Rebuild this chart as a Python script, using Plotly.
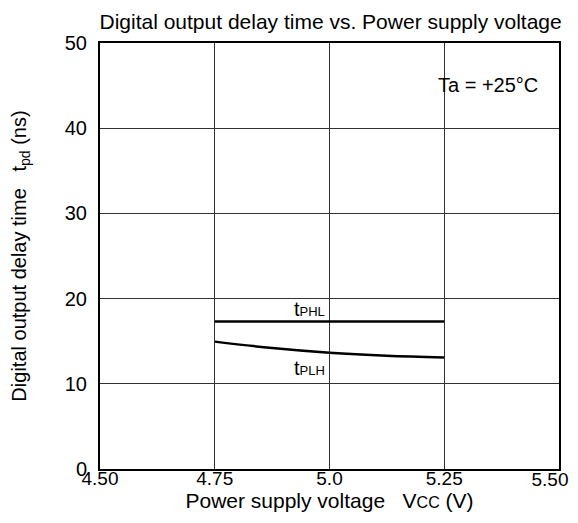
import plotly.graph_objects as go

vcc = [4.75, 4.875, 5.0, 5.125, 5.25]
t_phl = [17.3, 17.3, 17.3, 17.3, 17.3]
t_plh = [14.95, 14.2, 13.65, 13.3, 13.1]

x_ticks = [4.50, 4.75, 5.0, 5.25, 5.50]
x_tick_text = ["4.50", "4.75", "5.0", "5.25", "5.50"]
y_ticks = [0, 10, 20, 30, 40, 50]

FONT = "Liberation Sans, Arial, sans-serif"
FS = 20

fig = go.Figure()
fig.add_trace(go.Scatter(x=vcc, y=t_phl, mode="lines", line=dict(color="black", width=2.5),
                         line_shape="spline", showlegend=False))
# same x range on both x axes, so drawing this one on x2 keeps it in place
fig.add_trace(go.Scatter(x=vcc, y=t_plh, mode="lines", line=dict(color="black", width=2.5),
                         line_shape="spline", showlegend=False, xaxis="x2", yaxis="y"))

small = '<span style="font-size:13px">'
fig.add_annotation(x=5.0, y=t_phl[2], text="t" + small + "PHL</span>", showarrow=False,
                   xanchor="right", yanchor="bottom", xshift=-3, yshift=0,
                   font=dict(size=FS, color="black", family=FONT))
fig.add_annotation(x=5.0, y=t_plh[2], text="t" + small + "PLH</span>", showarrow=False,
                   xanchor="right", yanchor="top", xshift=-3, yshift=-2,
                   font=dict(size=FS, color="black", family=FONT))
fig.add_annotation(x=5.5, y=45.1, text="Ta = +25°C", showarrow=False,
                   xanchor="right", yanchor="middle", xshift=-19,
                   font=dict(size=FS, color="black", family=FONT))

fig.update_layout(
    width=570, height=515,
    margin=dict(l=92, r=19, t=35, b=54),
    paper_bgcolor="white", plot_bgcolor="white",
    font=dict(family=FONT, size=FS, color="black"),
    title=dict(text="Digital output delay time vs. Power supply voltage",
               x=0.566, xanchor="center", y=0.973, yanchor="middle",
               font=dict(size=21, color="black", family=FONT)),
    xaxis=dict(range=[4.5, 5.5], tickvals=x_ticks[:-1], ticktext=x_tick_text[:-1],
               showgrid=True, gridcolor="#333333", gridwidth=1,
               showline=True, linecolor="black", linewidth=2, mirror=True,
               ticks="", zeroline=False, tickfont=dict(size=19),
               ticklabelstandoff=-9, automargin=False, ticklabeloverflow="allow",
               title=dict(text="Power supply voltage   V" + '<span style="font-size:16px">CC</span>' + " (V)",
                          standoff=2, font=dict(size=21))),
    xaxis2=dict(range=[4.5, 5.5], overlaying="x", anchor="y", side="bottom",
                tickvals=x_ticks[-1:], ticktext=x_tick_text[-1:],
                showgrid=False, showline=False, zeroline=False, ticks="",
                tickfont=dict(size=19), ticklabelstandoff=-3, ticklabelshift=-9,
                automargin=False, ticklabeloverflow="allow"),
    yaxis=dict(range=[0, 50], tickvals=y_ticks,
               showgrid=True, gridcolor="#333333", gridwidth=1,
               showline=True, linecolor="black", linewidth=2, mirror=True,
               ticks="", zeroline=False, tickfont=dict(size=FS),
               ticklabelstandoff=7, automargin=False, ticklabeloverflow="allow",
               title=dict(text="Digital output delay time   t<sub>pd</sub> (ns)",
                          standoff=35, font=dict(size=FS))),
)

fig.write_html("out.html")
